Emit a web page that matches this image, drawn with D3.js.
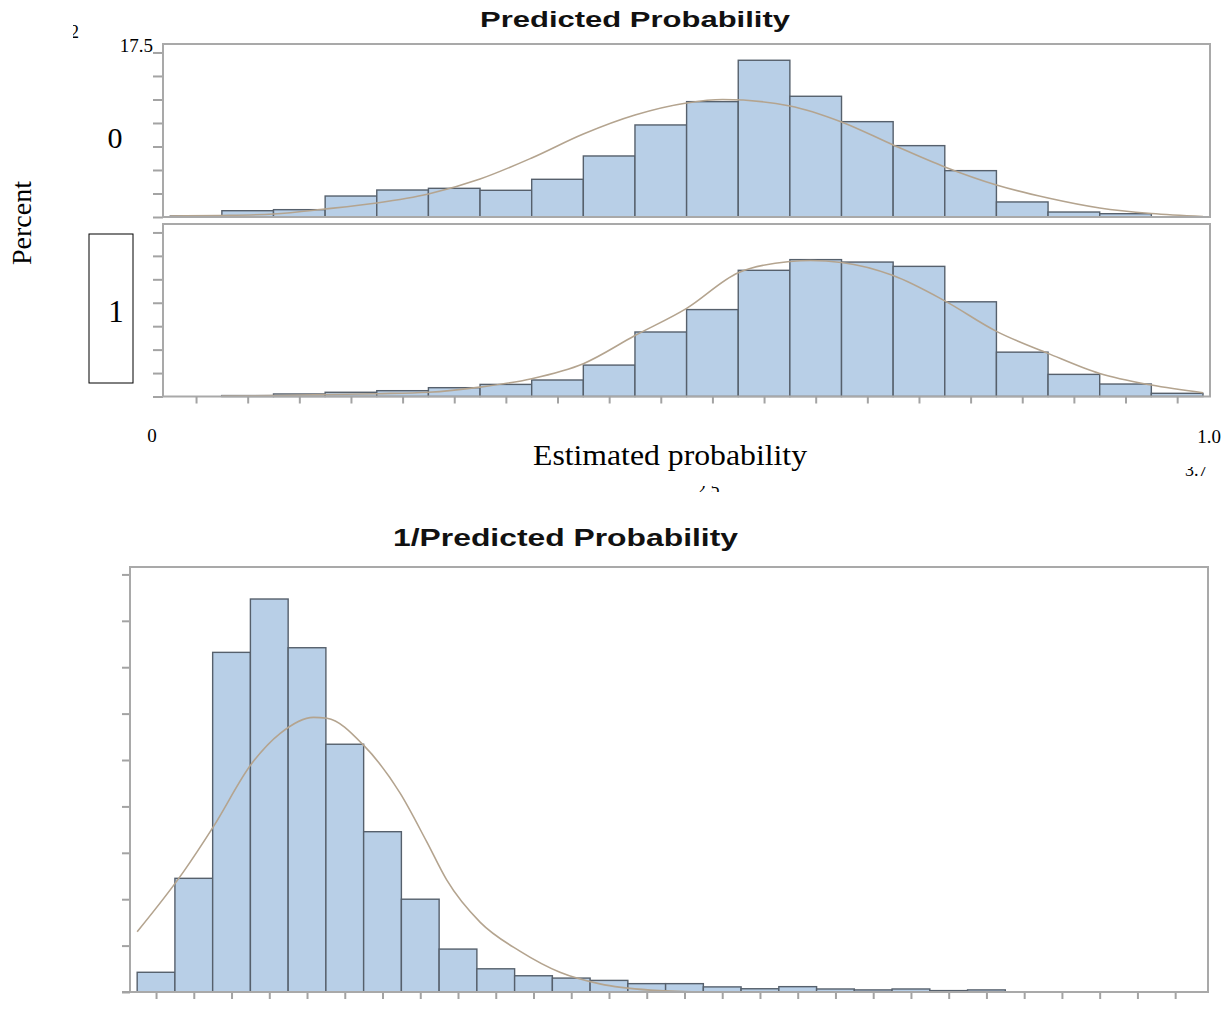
<!DOCTYPE html>
<html lang="en">
<head>
<meta charset="UTF-8">
<title>Predicted Probability</title>
<script src="https://d3js.org/d3.v7.min.js"></script>
<style>
    body { margin: 0; background: #fff; }
    svg { display: block; }
    .bar { fill: #b8cfe7; stroke: #56606c; stroke-width: 1.4px; }
    .fit { fill: none; stroke: #b4a48f; stroke-width: 1.6px; }
    .frame { fill: none; stroke: #a9a9a9; stroke-width: 2px; }
    .axis .domain { display: none; }
    .axis .tick line { stroke: #a3a3a3; stroke-width: 2px; }
    .serif { font-family: "Liberation Serif", "DejaVu Serif", serif; fill: #000; }
    .title { font-family: "Liberation Sans", Arial, sans-serif; font-weight: bold; fill: #111; }
</style>
</head>
<body>
<svg width="1226" height="1021"></svg>
<script>
// bins of estimated probability (left edges, width 0.05)
const probBins = [0, 0.05, 0.10, 0.15, 0.20, 0.25, 0.30, 0.35, 0.40, 0.45,
                  0.50, 0.55, 0.60, 0.65, 0.70, 0.75, 0.80, 0.85, 0.90, 0.95];
const probTicks = [0.025, 0.075, 0.125, 0.175, 0.225, 0.275, 0.325, 0.375, 0.425, 0.475,
                   0.525, 0.575, 0.625, 0.675, 0.725, 0.775, 0.825, 0.875, 0.925, 0.975];

// percent per bin, group 0 and group 1
const pct0 = [0.1, 0.67, 0.78, 2.23, 2.87, 3.05, 2.84, 4.01, 6.49, 9.79,
              12.27, 16.67, 12.84, 10.14, 7.59, 4.93, 1.6, 0.53, 0.35, 0];
const pct1 = [0, 0.1, 0.27, 0.45, 0.62, 0.94, 1.29, 1.76, 3.35, 6.88,
              9.27, 13.46, 14.6, 14.34, 13.88, 10.1, 4.73, 2.36, 1.33, 0.34];

// fitted curves
const fit0X = [0, 0.05, 0.10, 0.15, 0.20, 0.25, 0.30, 0.35, 0.40, 0.45, 0.50,
               0.535, 0.60, 0.65, 0.70, 0.75, 0.80, 0.85, 0.90, 0.95, 1.0];
const fit0Y = [0.11, 0.16, 0.32, 0.85, 1.49, 2.45, 4.04, 6.28, 8.83, 10.85, 12.13,
               12.5, 11.81, 10.11, 7.66, 5.32, 3.40, 2.02, 0.96, 0.37, 0.05];
const fit1X = [0.05, 0.10, 0.15, 0.20, 0.25, 0.30, 0.35, 0.40, 0.45, 0.50, 0.55,
               0.60, 0.62, 0.65, 0.70, 0.75, 0.80, 0.85, 0.90, 0.95, 1.0];
const fit1Y = [0.05, 0.1, 0.2, 0.3, 0.45, 1.0, 1.9, 3.5, 6.5, 9.4, 13.2,
               14.4, 14.5, 14.3, 12.9, 10.2, 6.95, 4.6, 2.45, 1.22, 0.4];

const pctTicks = [0, 2.5, 5, 7.5, 10, 12.5, 15, 17.5];

// 1/predicted probability: 28 bins (index), percent per bin
const invBins = [0, 1, 2, 3, 4, 5, 6, 7, 8, 9, 10, 11, 12, 13,
                 14, 15, 16, 17, 18, 19, 20, 21, 22, 23, 24, 25, 26, 27];
const invPct = [0.85, 4.9, 14.64, 16.94, 14.84, 10.68, 6.91, 4.0, 1.85, 1.0,
                0.70, 0.60, 0.50, 0.36, 0.36, 0.22, 0.14, 0.23, 0.13, 0.09,
                0.13, 0.06, 0.09, 0, 0, 0, 0, 0];
const invFitX = [0, 1.23, 2.02, 3.04, 3.79, 4.67, 5.03, 5.99, 6.97, 7.67,
                 8.2, 9.09, 10.15, 11.2, 12.26, 13.6, 14.9];
const invFitY = [2.6, 5.19, 7.13, 9.86, 11.15, 11.84, 11.8, 10.65, 8.56, 6.48,
                 4.83, 3.0, 1.75, 0.85, 0.35, 0.08, 0.0];
const invTicksY = [0, 2, 4, 6, 8, 10, 12, 14, 16, 18];

const svg = d3.select("svg");
const defs = svg.append("defs");

// ---- top chart: two stacked panels ----
const xP = d3.scaleLinear().domain([-0.007, 1.0068]).range([163, 1210]);
const panels = [
    { top: 44, bottom: 217, pct: pct0, fx: fit0X, fy: fit0Y },
    { top: 224, bottom: 396.5, pct: pct1, fx: fit1X, fy: fit1Y }
];

panels.forEach((p, i) => {
    const y = d3.scaleLinear().domain([0, 18.4]).range([p.bottom, p.top]);
    const g = svg.append("g");

    g.append("g").attr("class", "axis")
        .attr("transform", `translate(163,0)`)
        .call(d3.axisLeft(y).tickValues(pctTicks).tickSize(10).tickFormat(""));

    g.selectAll("rect.bar")
        .data(probBins.map((b, k) => ({ b, v: p.pct[k] })).filter(d => d.v > 0))
        .enter().append("rect")
        .attr("class", "bar")
        .attr("x", d => xP(d.b))
        .attr("width", d => xP(d.b + 0.05) - xP(d.b))
        .attr("y", d => y(d.v))
        .attr("height", d => y(0) - y(d.v));

    const line = d3.line().x(d => xP(d[0])).y(d => y(d[1])).curve(d3.curveMonotoneX);
    g.append("path").attr("class", "fit")
        .attr("d", line(p.fx.map((x, k) => [x, p.fy[k]])));

    g.append("rect").attr("class", "frame")
        .attr("x", 163).attr("y", p.top)
        .attr("width", 1047).attr("height", p.bottom - p.top);

    if (i === 1) {
        g.append("g").attr("class", "axis")
            .attr("transform", `translate(0,${p.bottom})`)
            .call(d3.axisBottom(xP).tickValues(probTicks).tickSize(7).tickFormat(""));
    }
});

// labels of the top chart
svg.append("text").attr("class", "title")
    .attr("x", 480).attr("y", 27).attr("font-size", 22)
    .attr("textLength", 310).attr("lengthAdjust", "spacingAndGlyphs")
    .text("Predicted Probability");

svg.append("text").attr("class", "serif")
    .attr("x", 153).attr("y", 52).attr("font-size", 19).attr("text-anchor", "end")
    .text("17.5");

svg.append("text").attr("class", "serif")
    .attr("x", 115).attr("y", 148).attr("font-size", 30).attr("text-anchor", "middle")
    .text("0");

svg.append("rect")
    .attr("x", 89).attr("y", 234).attr("width", 44).attr("height", 149)
    .attr("fill", "none").attr("stroke", "#000").attr("stroke-width", 1);
svg.append("text").attr("class", "serif")
    .attr("x", 116).attr("y", 322).attr("font-size", 31).attr("text-anchor", "middle")
    .text("1");

svg.append("text").attr("class", "serif")
    .attr("transform", "translate(31,223) rotate(-90)")
    .attr("font-size", 28).attr("text-anchor", "middle")
    .text("Percent");

svg.append("text").attr("class", "serif")
    .attr("x", 152).attr("y", 442).attr("font-size", 19).attr("text-anchor", "middle")
    .text("0");
svg.append("text").attr("class", "serif")
    .attr("x", 1209).attr("y", 443).attr("font-size", 19).attr("text-anchor", "middle")
    .text("1.0");

svg.append("text").attr("class", "serif")
    .attr("x", 533).attr("y", 465).attr("font-size", 30)
    .attr("textLength", 274).attr("lengthAdjust", "spacingAndGlyphs")
    .text("Estimated probability");

// cut-off fragments of other labels
const frags = [
    { id: "c1", t: "2", x: 70, y: 38, clip: [73, 20, 10, 20] },
    { id: "c2", t: "2.5", x: 697, y: 495, clip: [690, 486, 40, 6] },
    { id: "c3", t: "3.7", x: 1185, y: 476, clip: [1180, 467, 40, 10] }
];
frags.forEach(f => {
    defs.append("clipPath").attr("id", f.id).append("rect")
        .attr("x", f.clip[0]).attr("y", f.clip[1])
        .attr("width", f.clip[2]).attr("height", f.clip[3]);
    svg.append("text").attr("class", "serif")
        .attr("clip-path", `url(#${f.id})`)
        .attr("x", f.x).attr("y", f.y).attr("font-size", 18)
        .text(f.t);
});

// ---- bottom chart: 1/predicted probability ----
const xI = d3.scaleLinear().domain([-0.19, 28.37]).range([130, 1208]);
const yI = d3.scaleLinear().domain([0, 18.32]).range([992, 567]);
const gb = svg.append("g");

gb.append("g").attr("class", "axis")
    .attr("transform", "translate(130,0)")
    .call(d3.axisLeft(yI).tickValues(invTicksY).tickSize(8).tickFormat(""));
gb.append("g").attr("class", "axis")
    .attr("transform", "translate(0,992)")
    .call(d3.axisBottom(xI).tickValues(invBins.map(b => b + 0.5)).tickSize(7).tickFormat(""));

gb.selectAll("rect.bar")
    .data(invBins.map((b, k) => ({ b, v: invPct[k] })).filter(d => d.v > 0))
    .enter().append("rect")
    .attr("class", "bar")
    .attr("x", d => xI(d.b))
    .attr("width", d => xI(d.b + 1) - xI(d.b))
    .attr("y", d => yI(d.v))
    .attr("height", d => yI(0) - yI(d.v));

const invLine = d3.line().x(d => xI(d[0])).y(d => yI(d[1])).curve(d3.curveMonotoneX);
gb.append("path").attr("class", "fit")
    .attr("d", invLine(invFitX.map((x, k) => [x, invFitY[k]])));

gb.append("rect").attr("class", "frame")
    .attr("x", 130).attr("y", 567).attr("width", 1078).attr("height", 425);
gb.append("line")
    .attr("x1", 122).attr("x2", 130).attr("y1", 992).attr("y2", 992)
    .attr("stroke", "#a3a3a3").attr("stroke-width", 2);

svg.append("text").attr("class", "title")
    .attr("x", 393).attr("y", 546).attr("font-size", 24)
    .attr("textLength", 345).attr("lengthAdjust", "spacingAndGlyphs")
    .text("1/Predicted Probability");
</script>
</body>
</html>
